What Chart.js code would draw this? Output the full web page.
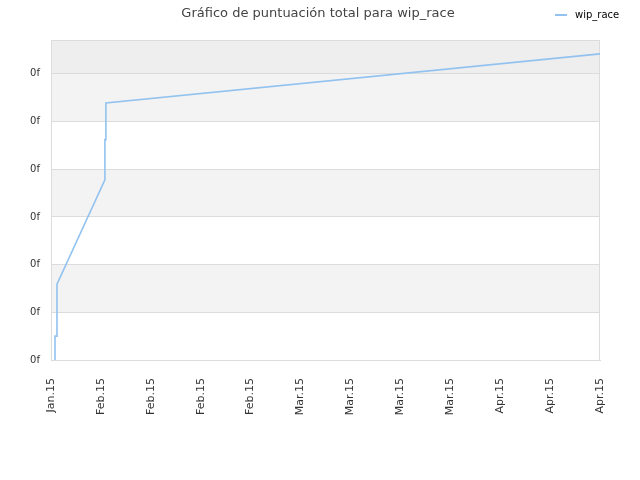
<!DOCTYPE html>
<html>
<head>
<meta charset="utf-8">
<script src="https://cdn.jsdelivr.net/npm/chart.js@4.4.0/dist/chart.umd.min.js"></script>
<style>
  body { margin: 0; background: #fff; }
  #wrap { position: relative; width: 640px; height: 480px; font-family: "DejaVu Sans", sans-serif; }
  #title { position: absolute; top: 5px; left: 0; width: 636px; text-align: center; font-size: 13px; color: #444; }
  #legend { position: absolute; top: 9px; left: 555px; font-size: 10px; color: #000; }
  #legend span.swatch { display: inline-block; width: 12px; height: 2px; background: #92c2f0; vertical-align: middle; margin-right: 8px; }
  canvas { position: absolute; top: 0; left: 0; }
</style>
</head>
<body>
<div id="wrap">
  <canvas id="scoreChart" width="640" height="480"></canvas>
  <div id="title">Gráfico de puntuación total para wip_race</div>
  <div id="legend"><span class="swatch"></span>wip_race</div>
</div>
<script>
const tickLabels = ['Jan.15','Feb.15','Feb.15','Feb.15','Feb.15','Mar.15','Mar.15','Mar.15','Mar.15','Apr.15','Apr.15','Apr.15'];
const seriesName = 'wip_race';
// x in tick-label units, y in gridline units
const scoreX = [0.08, 0.08, 0.12, 0.12, 1.08, 1.08, 1.10, 1.10, 11.0];
const scoreY = [0, 0.50, 0.50, 1.59, 3.78, 4.62, 4.62, 5.39, 6.42];
const yMax = 6.71;

const bands = {
    id: 'bands',
    beforeDraw(chart) {
        const { ctx, chartArea: a, scales: { y } } = chart;
        ctx.save();
        ctx.fillStyle = '#eeeeee';
        ctx.fillRect(a.left, a.top, a.width, y.getPixelForValue(6) - a.top);
        ctx.fillStyle = '#f3f3f3';
        [1, 3, 5].forEach(v => {
            const top = y.getPixelForValue(v + 1), bot = y.getPixelForValue(v);
            ctx.fillRect(a.left, top, a.width, bot - top);
        });
        ctx.restore();
    },
    beforeDatasetsDraw(chart) {
        const { ctx, chartArea: a } = chart;
        ctx.save();
        ctx.strokeStyle = '#dcdcdc';
        ctx.lineWidth = 1;
        ctx.strokeRect(a.left + 0.5, a.top + 0.5, a.width - 1, a.height);
        ctx.restore();
    }
};

new Chart(document.getElementById('scoreChart'), {
    type: 'line',
    data: {
        datasets: [{
            label: seriesName,
            data: scoreX.map((x, i) => ({ x: x, y: scoreY[i] })),
            borderColor: '#92c2f0',
            borderWidth: 1.6,
            pointRadius: 0,
            fill: false,
            tension: 0
        }]
    },
    options: {
        responsive: false,
        devicePixelRatio: 1,
        animation: false,
        layout: { padding: { top: 40, right: 40, left: 0, bottom: 0 } },
        plugins: { legend: { display: false }, title: { display: false }, tooltip: { enabled: false } },
        scales: {
            x: {
                type: 'linear', min: 0, max: 11,
                afterFit: s => { s.height = 120; },
                grid: { display: false },
                border: { display: true, color: '#dcdcdc' },
                ticks: {
                    stepSize: 1, autoSkip: false, minRotation: 90, maxRotation: 90, padding: 10,
                    color: '#333', font: { family: 'DejaVu Sans', size: 11 },
                    callback: v => tickLabels[v]
                }
            },
            y: {
                min: 0, max: yMax,
                afterFit: s => { s.width = 51; },
                afterBuildTicks: s => { s.ticks = s.ticks.filter(t => Number.isInteger(t.value)); },
                grid: { color: '#dcdcdc', drawTicks: false },
                border: { display: true, color: '#dcdcdc' },
                ticks: {
                    stepSize: 1, padding: 11,
                    color: '#333', font: { family: 'DejaVu Sans', size: 10 },
                    callback: () => '0f'
                }
            }
        }
    },
    plugins: [bands]
});
</script>
</body>
</html>
